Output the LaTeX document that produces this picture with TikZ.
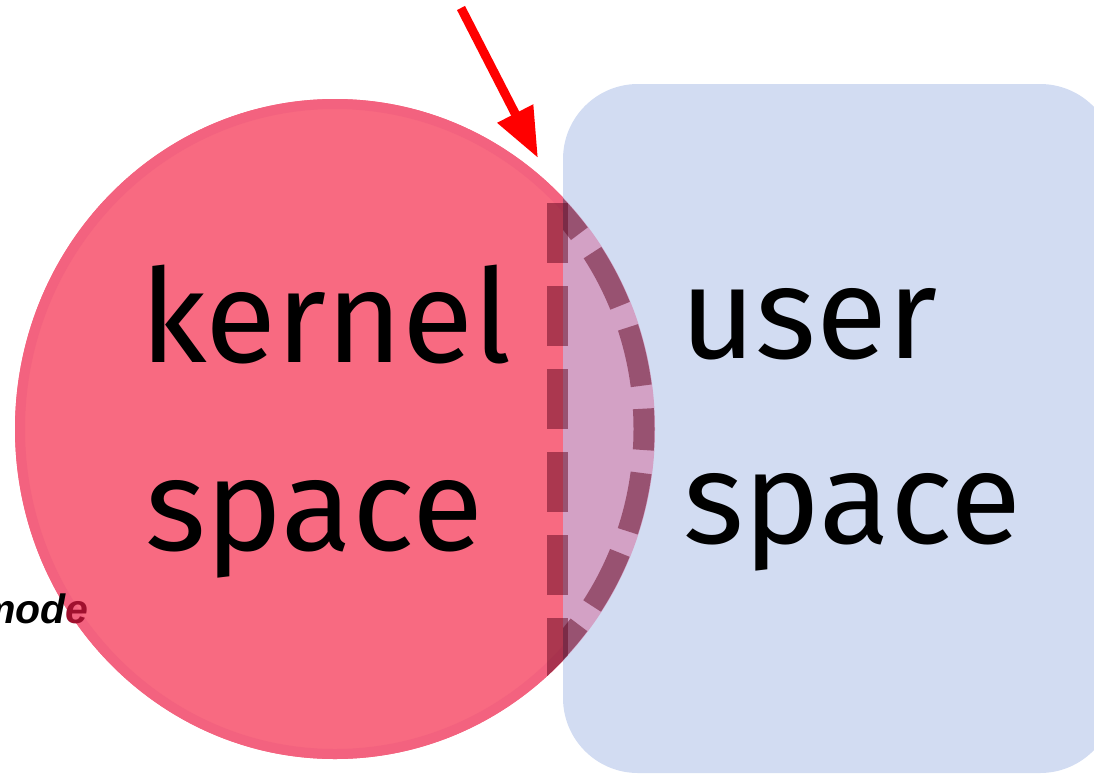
\documentclass[tikz,border=0pt]{standalone}
\usepackage{fontspec}
\setmainfont{Fira Sans}
\newfontfamily\modefont{Liberation Sans}
\usetikzlibrary{arrows.meta}
\definecolor{kpink}{RGB}{248,106,129}
\definecolor{kring}{RGB}{243,98,127}
\definecolor{kblue}{RGB}{210,220,242}
\definecolor{klav}{RGB}{211,161,197}
\definecolor{kdash}{RGB}{95,5,30}
\definecolor{kdred}{RGB}{160,16,46}
\tikzset{
  lbl/.style={inner sep=0pt, anchor=base west, font=\fontsize{130}{150}\selectfont},
  lens/.style={draw=kdash, draw opacity=0.5, line width=21pt},
  pointer/.style={draw=red, line width=9pt, -{Triangle[length=50pt,width=38pt]}}
}
\begin{document}
\begin{tikzpicture}[x=1pt,y=-1pt]
\useasboundingbox (0,0) rectangle (1094,774);
\clip (0,0) rectangle (1094,774);
% kernel circle
\fill[kpink] (335,429) ellipse [x radius=320, y radius=330];
\draw[kring, line width=10pt] (335,429) ellipse [x radius=315, y radius=325];
% user space box
\fill[kblue, rounded corners=75pt] (563,84) rectangle (1115,773);
% overlap
\begin{scope}
  \clip (563,84) rectangle (1115,773);
  \fill[klav] (335,429) ellipse [x radius=320, y radius=330];
  \draw[lens, dash pattern=on 60pt off 23pt, dash phase=39pt] (335,429) ellipse [x radius=309, y radius=319];
\end{scope}
\begin{scope}
  \clip (335,429) ellipse [x radius=320, y radius=330];
  \draw[lens, dash pattern=on 60pt off 23pt] (557,203) -- (557,700);
\end{scope}
% labels
\node[lbl] (kernel) at (140,362) {kernel};
\node[lbl] (kspace) at (145,550) {space};
\node[lbl] (user) at (680,358) {user};
\node[lbl] (uspace) at (683,543) {space};
\node[inner sep=0pt, anchor=base east, font=\modefont\bfseries\itshape\fontsize{41}{45}\selectfont] (mode) at (89,623) {mod\textcolor{kdred}{e}};
% arrow
\coordinate (astart) at (461,8);
\coordinate (atip) at (538,158);
\draw[pointer] (astart) -- (atip);
\end{tikzpicture}
\end{document}
